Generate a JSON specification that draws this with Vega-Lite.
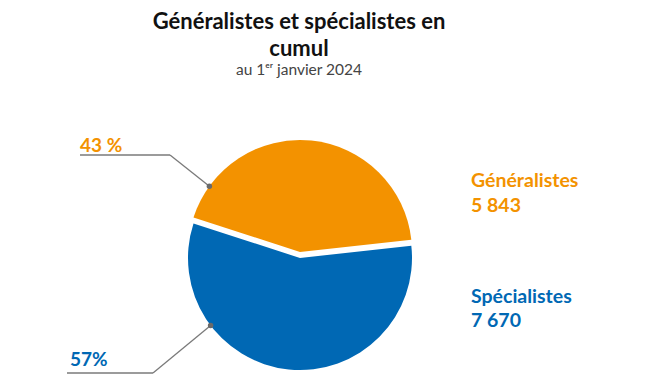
{
  "$schema": "https://vega.github.io/schema/vega-lite/v6.json",
  "width": 650,
  "height": 298,
  "autosize": {"type": "none"},
  "padding": {"top": 85, "left": 0, "right": 0, "bottom": 0},
  "background": "white",
  "title": {
    "text": ["Généralistes et spécialistes en", "cumul"],
    "subtitle": "au 1ᵉʳ janvier 2024",
    "anchor": "middle",
    "dx": -26,
    "offset": 6,
    "font": "Lato",
    "fontSize": 22,
    "fontWeight": "bold",
    "color": "#111111",
    "lineHeight": 27,
    "subtitleFont": "Lato",
    "subtitleFontSize": 15.5,
    "subtitleColor": "#444444",
    "subtitlePadding": 2
  },
  "config": {
    "view": {"stroke": null},
    "text": {"font": "Lato"},
    "locale": {"number": {"decimal": ",", "thousands": "\u00a0", "grouping": [3], "currency": ["", " €"]}}
  },
  "data": {
    "values": [
      {"categorie": "Généralistes", "effectif": 5843, "part": "43 %"},
      {"categorie": "Spécialistes", "effectif": 7670, "part": "57%"}
    ]
  },
  "layer": [
    {
      "mark": {"type": "arc", "outerRadius": 112},
      "encoding": {
        "theta": {"field": "effectif", "type": "quantitative", "stack": true, "scale": {"range": [-1.2566, 5.0266]}},
        "order": {"field": "effectif", "sort": "ascending"},
        "color": {"field": "categorie", "type": "nominal", "scale": {"domain": ["Généralistes", "Spécialistes"], "range": ["#F39200", "#0068B4"]}, "legend": null},
        "x": {"datum": 0, "type": "quantitative", "scale": {"domain": [-300, 350], "nice": false, "zero": false}, "axis": null},
        "y": {"datum": 0, "type": "quantitative", "scale": {"domain": [-125, 173], "nice": false, "zero": false}, "axis": null},
        "opacity": {"condition": {"test": "datum.categorie === 'Spécialistes'", "value": 1}, "value": 0}
      }
    },
    {
      "mark": {"type": "arc", "outerRadius": 112, "yOffset": -6},
      "encoding": {
        "theta": {"field": "effectif", "type": "quantitative", "stack": true},
        "order": {"field": "effectif", "sort": "ascending"},
        "color": {"field": "categorie", "type": "nominal", "legend": null},
        "x": {"datum": 0, "type": "quantitative"},
        "y": {"datum": 0, "type": "quantitative"},
        "opacity": {"condition": {"test": "datum.categorie === 'Généralistes'", "value": 1}, "value": 0}
      }
    },
    {
      "transform": [{"filter": "datum.categorie === 'Généralistes'"}],
      "mark": {"type": "rule", "color": "#7a7a7a", "strokeWidth": 1.3},
      "encoding": {
        "x": {"datum": -220, "type": "quantitative"}, "y": {"datum": 103, "type": "quantitative"},
        "x2": {"datum": -130}, "y2": {"datum": 103}
      }
    },
    {
      "transform": [{"filter": "datum.categorie === 'Généralistes'"}],
      "mark": {"type": "rule", "color": "#7a7a7a", "strokeWidth": 1.3},
      "encoding": {
        "x": {"datum": -130, "type": "quantitative"}, "y": {"datum": 103, "type": "quantitative"},
        "x2": {"datum": -90.6}, "y2": {"datum": 71.8}
      }
    },
    {
      "transform": [{"filter": "datum.categorie === 'Généralistes'"}],
      "mark": {"type": "circle", "size": 30, "color": "#6a6a6a", "opacity": 1},
      "encoding": {"x": {"datum": -90.6, "type": "quantitative"}, "y": {"datum": 71.8, "type": "quantitative"}}
    },
    {
      "transform": [{"filter": "datum.categorie === 'Spécialistes'"}],
      "mark": {"type": "rule", "color": "#7a7a7a", "strokeWidth": 1.3},
      "encoding": {
        "x": {"datum": -233, "type": "quantitative"}, "y": {"datum": -115, "type": "quantitative"},
        "x2": {"datum": -147}, "y2": {"datum": -115}
      }
    },
    {
      "transform": [{"filter": "datum.categorie === 'Spécialistes'"}],
      "mark": {"type": "rule", "color": "#7a7a7a", "strokeWidth": 1.3},
      "encoding": {
        "x": {"datum": -147, "type": "quantitative"}, "y": {"datum": -115, "type": "quantitative"},
        "x2": {"datum": -89.4}, "y2": {"datum": -67.4}
      }
    },
    {
      "transform": [{"filter": "datum.categorie === 'Spécialistes'"}],
      "mark": {"type": "circle", "size": 30, "color": "#6a6a6a", "opacity": 1},
      "encoding": {"x": {"datum": -89.4, "type": "quantitative"}, "y": {"datum": -67.4, "type": "quantitative"}}
    },
    {
      "transform": [{"filter": "datum.categorie === 'Généralistes'"}],
      "mark": {"type": "text", "align": "left", "baseline": "alphabetic", "fontSize": 19, "fontWeight": "bold"},
      "encoding": {
        "text": {"field": "part"},
        "x": {"datum": -220, "type": "quantitative"}, "y": {"datum": 106, "type": "quantitative"},
        "color": {"field": "categorie", "type": "nominal", "legend": null}
      }
    },
    {
      "transform": [{"filter": "datum.categorie === 'Spécialistes'"}],
      "mark": {"type": "text", "align": "left", "baseline": "alphabetic", "fontSize": 19, "fontWeight": "bold"},
      "encoding": {
        "text": {"field": "part"},
        "x": {"datum": -230, "type": "quantitative"}, "y": {"datum": -108, "type": "quantitative"},
        "color": {"field": "categorie", "type": "nominal", "legend": null}
      }
    },
    {
      "transform": [{"filter": "datum.categorie === 'Généralistes'"}],
      "mark": {"type": "text", "align": "left", "baseline": "alphabetic", "fontSize": 19.5, "fontWeight": "bold"},
      "encoding": {
        "text": {"field": "categorie"},
        "x": {"datum": 171, "type": "quantitative"}, "y": {"datum": 71, "type": "quantitative"},
        "color": {"field": "categorie", "type": "nominal", "legend": null}
      }
    },
    {
      "transform": [{"filter": "datum.categorie === 'Généralistes'"}],
      "mark": {"type": "text", "align": "left", "baseline": "alphabetic", "fontSize": 19.5, "fontWeight": "bold"},
      "encoding": {
        "text": {"field": "effectif", "type": "quantitative", "format": ","},
        "x": {"datum": 171, "type": "quantitative"}, "y": {"datum": 46, "type": "quantitative"},
        "color": {"field": "categorie", "type": "nominal", "legend": null}
      }
    },
    {
      "transform": [{"filter": "datum.categorie === 'Spécialistes'"}],
      "mark": {"type": "text", "align": "left", "baseline": "alphabetic", "fontSize": 19.5, "fontWeight": "bold"},
      "encoding": {
        "text": {"field": "categorie"},
        "x": {"datum": 171, "type": "quantitative"}, "y": {"datum": -45, "type": "quantitative"},
        "color": {"field": "categorie", "type": "nominal", "legend": null}
      }
    },
    {
      "transform": [{"filter": "datum.categorie === 'Spécialistes'"}],
      "mark": {"type": "text", "align": "left", "baseline": "alphabetic", "fontSize": 19.5, "fontWeight": "bold"},
      "encoding": {
        "text": {"field": "effectif", "type": "quantitative", "format": ","},
        "x": {"datum": 171, "type": "quantitative"}, "y": {"datum": -69, "type": "quantitative"},
        "color": {"field": "categorie", "type": "nominal", "legend": null}
      }
    }
  ]
}
